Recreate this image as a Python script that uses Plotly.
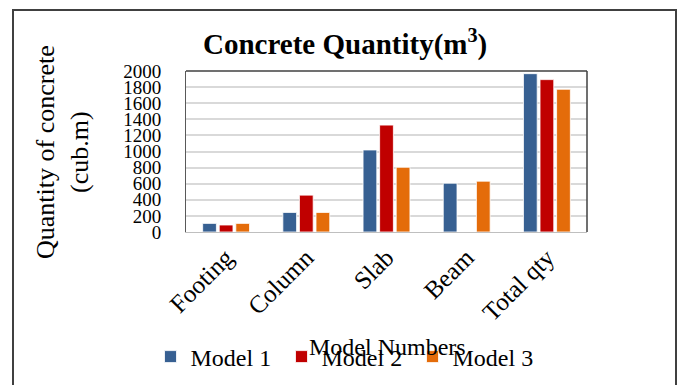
import plotly.graph_objects as go

categories = ["Footing", "Column", "Slab", "Beam", "Total qty"]
model1 = [107, 243, 1019, 606, 1967]
model2 = [87, 458, 1328, 0, 1893]
model3 = [107, 243, 804, 631, 1773]
series_names = ["Model 1", "Model 2", "Model 3"]
colors = ["#376092", "#c00000", "#e46c0a"]
y_ticks = list(range(0, 2001, 200))

L, R, T, B = 186, 91, 71, 153
W, H = 678, 385
pw, ph = W - L - R, H - T - B

def px_x(x):
    return (x - L) / pw

def px_y(y):
    return (H - B - y) / ph

fig = go.Figure()
for name, vals, c in zip(series_names, [model1, model2, model3], colors):
    fig.add_trace(go.Bar(x=categories, y=vals, name=name,
                         marker=dict(color=c, line=dict(color="rgba(255,255,255,0.8)", width=1))))

serif = "Liberation Serif"
fig.update_layout(
    width=W, height=H,
    margin=dict(l=L, r=R, t=T, b=B, autoexpand=False),
    paper_bgcolor="white", plot_bgcolor="white",
    barmode="group", bargap=0.38, bargroupgap=0.17,
    font=dict(family=serif, color="#000000"),
    showlegend=True,
    legend=dict(orientation="h", x=px_x(347), y=px_y(357), xanchor="center", yanchor="middle",
                font=dict(family=serif, size=24), tracegroupgap=0,
                entrywidth=86, entrywidthmode="pixels",
                bgcolor="rgba(0,0,0,0)"),
    xaxis=dict(tickangle=-45, tickfont=dict(family=serif, size=25), showline=True,
               linecolor="#bfbfbf", linewidth=1, mirror=False, ticks="", automargin=False),
    yaxis=dict(range=[0, 2000], tickvals=y_ticks, tickfont=dict(family=serif, size=19),
               showgrid=True, gridcolor="#d9d9d9", gridwidth=1.5, zeroline=False,
               showline=True, linecolor="#595959", linewidth=1, ticks="",
               ticklabelstandoff=20, automargin=False),
    shapes=[
        dict(type="rect", xref="paper", yref="paper", x0=px_x(13), x1=px_x(676), y0=px_y(400), y1=px_y(10),
             line=dict(color="#404040", width=2), fillcolor="rgba(0,0,0,0)", layer="below"),
        dict(type="line", xref="paper", yref="paper", x0=0, x1=1, y0=1, y1=1,
             line=dict(color="#404040", width=1.5)),
        dict(type="line", xref="paper", yref="paper", x0=1, x1=1, y0=0, y1=1,
             line=dict(color="#404040", width=1.5)),
    ],
    annotations=[
        dict(text="<b>Concrete Quantity(m<sup>3</sup>)</b>", xref="paper", yref="paper",
             x=px_x(345), y=px_y(42), xanchor="center", yanchor="middle", showarrow=False,
             font=dict(family=serif, size=29)),
        dict(text="Quantity of concrete<br>(cub.m)", xref="paper", yref="paper",
             x=px_x(62), y=px_y(152), xanchor="center", yanchor="middle", showarrow=False,
             textangle=-90, font=dict(family=serif, size=26)),
        dict(text="Model Numbers", xref="paper", yref="paper", x=px_x(387), y=px_y(347),
             xanchor="center", yanchor="middle", showarrow=False,
             font=dict(family=serif, size=24)),
    ],
)
fig.write_html("out.html", config={"displayModeBar": False},
               post_script="document.body.style.margin='0';document.body.style.overflow='hidden';")
